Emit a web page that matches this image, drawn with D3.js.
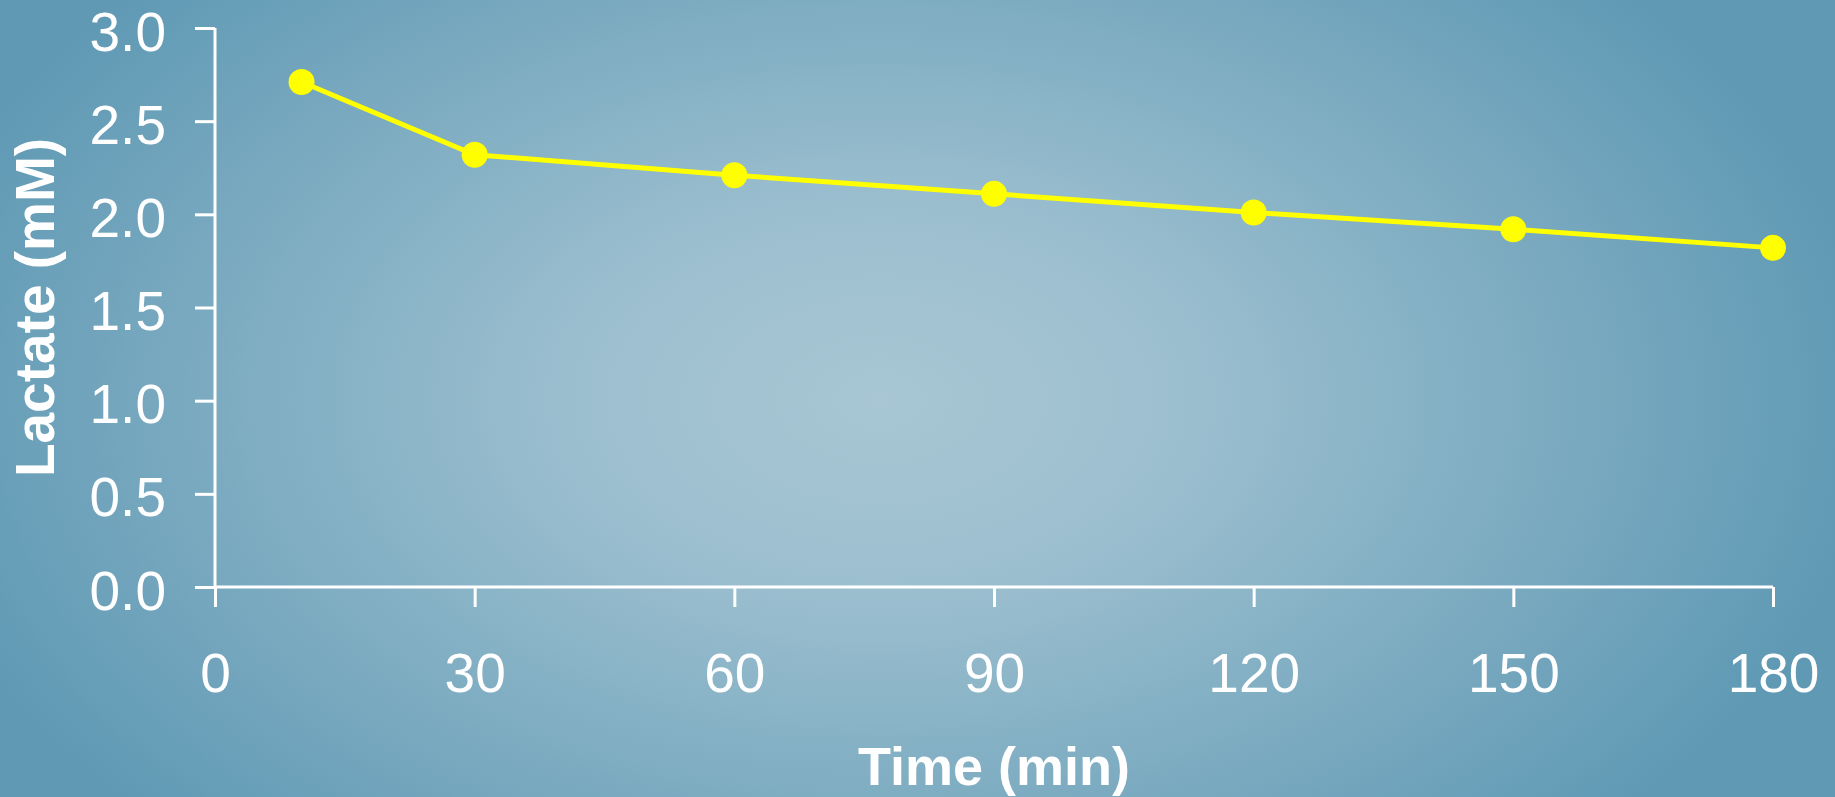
<!DOCTYPE html>
<html>
<head>
<meta charset="utf-8">
<script src="https://cdn.jsdelivr.net/npm/d3@7"></script>
<style>
  html, body { margin: 0; padding: 0; overflow: hidden; }
  svg { display: block; }
</style>
</head>
<body>
<script>
// Blood lactate over time
const timeMin = [10, 30, 60, 90, 120, 150, 180];
const lactate = [2.71, 2.32, 2.21, 2.11, 2.01, 1.92, 1.82];
const xTicks = [0, 30, 60, 90, 120, 150, 180];
const yTicks = [0, 0.5, 1.0, 1.5, 2.0, 2.5, 3.0];

const W = 1835, H = 797;
const margin = { left: 215, right: 62, top: 28, bottom: 210 };

const svg = d3.select("body").append("svg")
  .attr("width", W).attr("height", H);

const defs = svg.append("defs");
const grad = defs.append("radialGradient")
  .attr("id", "bg")
  .attr("gradientUnits", "userSpaceOnUse")
  .attr("cx", 880).attr("cy", 400).attr("r", 1000)
  .attr("gradientTransform", "translate(880,400) scale(1,0.62) translate(-880,-400)");
grad.append("stop").attr("offset", "0").attr("stop-color", "#a8c6d4");
grad.append("stop").attr("offset", "0.3").attr("stop-color", "#9cbfcf");
grad.append("stop").attr("offset", "1").attr("stop-color", "#5f99b4");

svg.append("rect").attr("width", W).attr("height", H).attr("fill", "url(#bg)");

const x = d3.scaleLinear().domain([0, 180]).range([margin.left, W - margin.right]);
const y = d3.scaleLinear().domain([0, 3]).range([H - margin.bottom, margin.top]);

const font = "'Liberation Sans', Arial, sans-serif";

// y axis
const yAxis = svg.append("g")
  .attr("transform", `translate(${margin.left},0)`)
  .call(d3.axisLeft(y).tickValues(yTicks).tickFormat(d3.format(".1f")).tickSize(20).tickPadding(29));
// x axis
const xAxis = svg.append("g")
  .attr("transform", `translate(0,${H - margin.bottom})`)
  .call(d3.axisBottom(x).tickValues(xTicks).tickSize(20).tickPadding(45));

[yAxis, xAxis].forEach(g => {
  g.select(".domain").attr("stroke", "#fff").attr("stroke-width", 3);
  g.selectAll(".tick line").attr("stroke", "#fff").attr("stroke-width", 3);
  g.selectAll(".tick text").attr("fill", "#fff")
    .style("font-family", font).style("font-size", "55px");
});
yAxis.select(".domain").attr("d", `M-0,${y(3)}H0V${y(0)}`);
xAxis.select(".domain").attr("d", `M${x(0)},0H${x(180)}`);
yAxis.selectAll(".tick text").attr("dy", "0.4em");
xAxis.selectAll(".tick text").attr("dy", "0.72em");

// axis titles
svg.append("text")
  .attr("x", (x(0) + x(180)) / 2).attr("y", 785)
  .attr("text-anchor", "middle")
  .attr("fill", "#fff")
  .style("font-family", font).style("font-weight", "bold").style("font-size", "54px")
  .text("Time (min)");

svg.append("text")
  .attr("transform", `translate(54,${(y(0) + y(3)) / 2}) rotate(-90)`)
  .attr("text-anchor", "middle")
  .attr("fill", "#fff")
  .style("font-family", font).style("font-weight", "bold").style("font-size", "55px")
  .text("Lactate (mM)");

// series
const pts = timeMin.map((t, i) => [t, lactate[i]]);
svg.append("path")
  .datum(pts)
  .attr("fill", "none")
  .attr("stroke", "#ffff00")
  .attr("stroke-width", 5)
  .attr("d", d3.line().x(d => x(d[0])).y(d => y(d[1])));

svg.selectAll("circle.pt")
  .data(pts)
  .join("circle")
  .attr("class", "pt")
  .attr("cx", d => x(d[0])).attr("cy", d => y(d[1]))
  .attr("r", 13)
  .attr("fill", "#ffff00");
</script>
</body>
</html>
